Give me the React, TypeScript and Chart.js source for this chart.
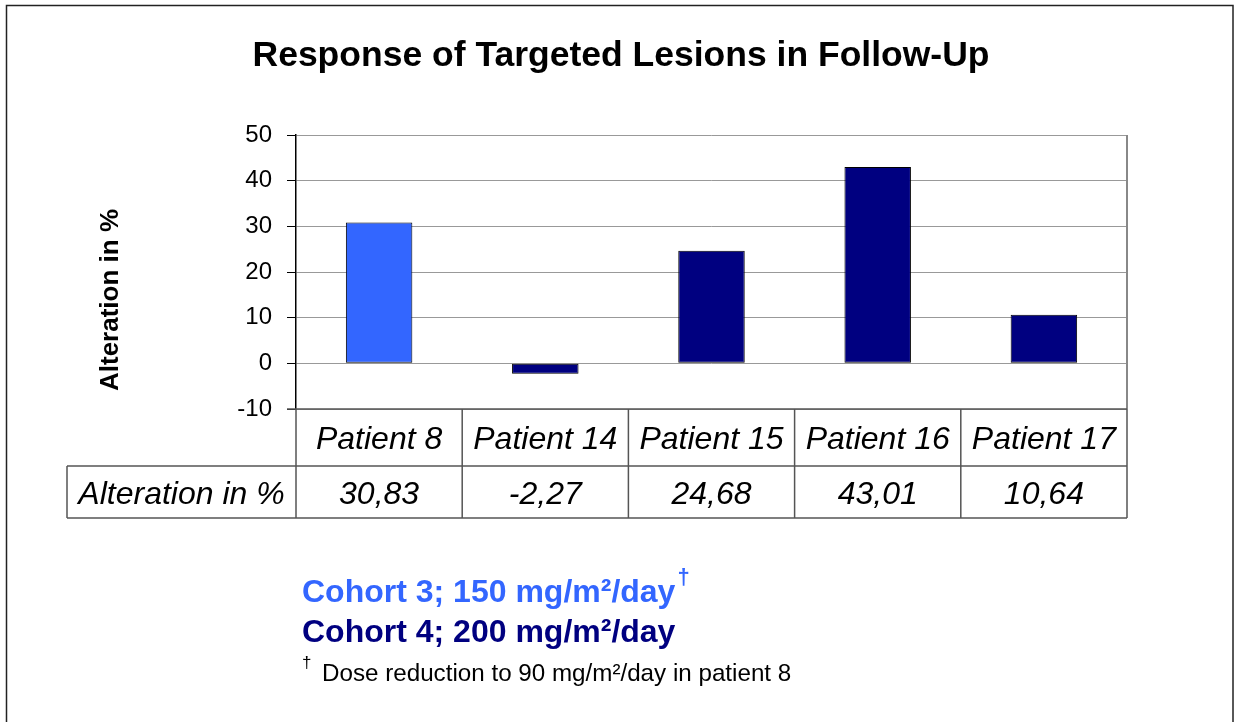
import React, { useEffect, useRef } from "react";
import { Chart, registerables } from "chart.js";

Chart.register(...registerables);

const chartTitle = "Response of Targeted Lesions in Follow-Up";
const yAxisTitle = "Alteration in %";
const patients = ["Patient 8", "Patient 14", "Patient 15", "Patient 16", "Patient 17"];
const alteration = [30.83, -2.27, 24.68, 43.01, 10.64];
const cohortOfPatient = [3, 4, 4, 4, 4];
const tableRowLabel = "Alteration in %";
const yMin = -10;
const yMax = 50;
const yStep = 10;
const legendLines = [
  { text: "Cohort 3; 150 mg/m²/day", cohort: 3, dagger: true },
  { text: "Cohort 4; 200 mg/m²/day", cohort: 4, dagger: false },
];
const footnote = "Dose reduction to 90 mg/m²/day in patient 8";

const cohortColors: Record<number, string> = { 3: "#3366FF", 4: "#000080" };
const FONT = "'Liberation Sans', Arial, Helvetica, sans-serif";

const W = 1235;
const H = 722;

const decorPlugin = {
  id: "decor",
  afterDraw(chart: any) {
    const ctx: CanvasRenderingContext2D = chart.ctx;
    const ca = chart.chartArea;
    ctx.save();

    // outer frame
    ctx.strokeStyle = "#222";
    ctx.lineWidth = 1.5;
    ctx.strokeRect(6.5, 5.5, 1226.5, 740);

    // title
    ctx.fillStyle = "#000";
    ctx.font = `bold 35.5px ${FONT}`;
    ctx.textAlign = "center";
    ctx.textBaseline = "alphabetic";
    ctx.fillText(chartTitle, 621, 66);

    // y axis title
    ctx.save();
    ctx.translate(118, 300);
    ctx.rotate(-Math.PI / 2);
    ctx.font = `bold 26px ${FONT}`;
    ctx.textAlign = "center";
    ctx.textBaseline = "alphabetic";
    ctx.fillText(yAxisTitle, 0, 0);
    ctx.restore();

    // right plot border
    ctx.strokeStyle = "#888";
    ctx.lineWidth = 2;
    ctx.beginPath();
    ctx.moveTo(ca.right, ca.top);
    ctx.lineTo(ca.right, ca.bottom);
    ctx.stroke();

    // data table
    const n = patients.length;
    const colW = (ca.right - ca.left) / n;
    const headerBottom = ca.bottom + 57;
    const rowBottom = headerBottom + 52;
    const labelLeft = 67;
    ctx.strokeStyle = "#555";
    ctx.lineWidth = 1.5;
    ctx.beginPath();
    ctx.moveTo(ca.left - 9, ca.bottom);
    ctx.lineTo(ca.right, ca.bottom);
    ctx.moveTo(labelLeft, headerBottom);
    ctx.lineTo(ca.right, headerBottom);
    ctx.moveTo(labelLeft, rowBottom);
    ctx.lineTo(ca.right, rowBottom);
    ctx.moveTo(labelLeft, headerBottom);
    ctx.lineTo(labelLeft, rowBottom);
    for (let i = 0; i <= n; i++) {
      const x = ca.left + i * colW;
      ctx.moveTo(x, ca.bottom);
      ctx.lineTo(x, rowBottom);
    }
    ctx.stroke();

    ctx.fillStyle = "#000";
    ctx.font = `italic 32px ${FONT}`;
    ctx.textAlign = "center";
    ctx.textBaseline = "alphabetic";
    const xScale = chart.scales.x;
    for (let i = 0; i < n; i++) {
      const cx = xScale.getPixelForValue(i);
      ctx.fillText(patients[i], cx, ca.bottom + 40);
      ctx.fillText(alteration[i].toFixed(2).replace(".", ","), cx, headerBottom + 38);
    }
    ctx.fillText(tableRowLabel, (labelLeft + ca.left) / 2, headerBottom + 38);

    // legend lines
    ctx.textAlign = "left";
    const legendX = 302;
    legendLines.forEach((ln, i) => {
      const y = 602 + i * 40;
      ctx.fillStyle = cohortColors[ln.cohort];
      ctx.font = `bold 32px ${FONT}`;
      ctx.fillText(ln.text, legendX, y);
      if (ln.dagger) {
        const w = ctx.measureText(ln.text).width;
        ctx.font = `bold 22px ${FONT}`;
        ctx.fillText("†", legendX + w + 2, y - 18);
      }
    });
    ctx.fillStyle = "#000";
    ctx.font = `17px ${FONT}`;
    ctx.fillText("†", legendX, 668);
    ctx.font = `24.2px ${FONT}`;
    ctx.fillText(footnote, 322, 681);

    ctx.restore();
  },
};

export default function App() {
  const canvasRef = useRef<HTMLCanvasElement | null>(null);

  useEffect(() => {
    const canvas = canvasRef.current;
    if (!canvas) return;
    const chart = new Chart(canvas, {
      type: "bar",
      data: {
        labels: patients,
        datasets: [
          {
            data: alteration,
            backgroundColor: cohortOfPatient.map((c) => cohortColors[c]),
            borderColor: "#000",
            borderWidth: 1,
            borderSkipped: false,
            barPercentage: 0.4,
            categoryPercentage: 1,
          },
        ],
      },
      options: {
        responsive: false,
        animation: false,
        devicePixelRatio: 1,
        layout: { padding: { top: 135, right: 108, bottom: 313, left: 0 } },
        plugins: {
          legend: { display: false },
          title: { display: false },
          tooltip: { enabled: false },
        },
        scales: {
          x: { display: false },
          y: {
            min: yMin,
            max: yMax,
            afterFit: (scale: any) => {
              scale.width = 296;
            },
            ticks: {
              stepSize: yStep,
              color: "#000",
              padding: 15,
              font: { family: FONT, size: 24 },
            },
            grid: {
              color: "#999",
              lineWidth: 1,
              tickLength: 9,
              tickColor: "#000",
            },
            border: { display: true, color: "#000", width: 1.5 },
          },
        },
      },
      plugins: [decorPlugin],
    });
    return () => chart.destroy();
  }, []);

  return (
    <div style={{ position: "absolute", left: 0, top: 0, width: W, height: H, background: "#fff" }}>
      <canvas ref={canvasRef} width={W} height={H} style={{ display: "block", width: W, height: H }} />
    </div>
  );
}
